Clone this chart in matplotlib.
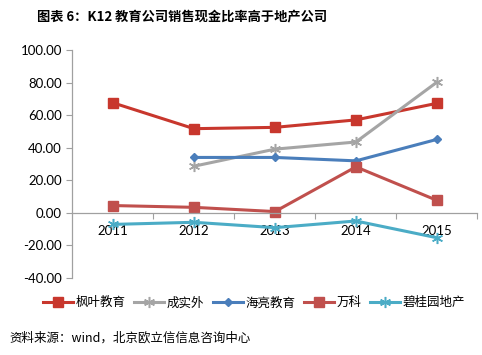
import matplotlib.pyplot as plt
from matplotlib.ticker import FormatStrFormatter

plt.rcParams['font.family'] = ['Noto Sans CJK SC', 'DejaVu Sans']

years = ['2011', '2012', '2013', '2014', '2015']
fengye = [67.6, 51.7, 52.5, 57.1, 67.3]
chengshiwai = [None, 28.6, 39.1, 43.5, 80.3]
hailiang = [None, 34.0, 34.0, 31.9, 45.1]
wanke = [4.4, 3.3, 0.7, 28.2, 7.6]
biguiyuan = [-7.2, -5.9, -9.2, -5.1, -15.4]

fig = plt.figure(figsize=(4.82, 3.55), dpi=100)
ax = fig.add_axes([0.1504, 0.2177, 0.840, 0.641])

x = list(range(len(years)))

def pts(vals):
    xs = [i for i, v in zip(x, vals) if v is not None]
    ys = [v for v in vals if v is not None]
    return xs, ys

star = (6, 2, 0)  # excel-like asterisk
ax.plot(*pts(fengye), color='#c8372d', lw=2.2, marker='s', ms=6.5, label='枫叶教育')
ax.plot(*pts(chengshiwai), color='#a5a5a5', lw=2.2, marker=star, ms=8, mew=1.1, label='成实外')
ax.plot(*pts(hailiang), color='#4a7ebb', lw=2.2, marker='D', ms=4.5, label='海亮教育')
ax.plot(*pts(wanke), color='#c0504d', lw=2.2, marker='s', ms=6.5, label='万科')
ax.plot(*pts(biguiyuan), color='#4bacc6', lw=2.2, marker=star, ms=8, mew=1.1, label='碧桂园地产')

ax.set_xlim(-0.5, 4.5)
ax.set_ylim(-40, 100)
ax.set_yticks(range(-40, 101, 20))
ax.yaxis.set_major_formatter(FormatStrFormatter('%.2f'))

ax.spines['bottom'].set_position(('data', 0))
ax.spines['top'].set_visible(False)
ax.spines['right'].set_visible(False)
for s in ['left', 'bottom']:
    ax.spines[s].set_color('#a0a0a0')
    ax.spines[s].set_linewidth(0.9)

ax.set_xticks([0.5, 1.5, 2.5, 3.5, 4.5])
ax.set_xticklabels([])
ax.set_xticks(x, minor=True)
ax.set_xticklabels(years, minor=True)
ax.tick_params(axis='x', which='major', direction='out', length=4, color='#a0a0a0')
ax.tick_params(axis='x', which='minor', length=0, pad=9, labelsize=9.5)
ax.tick_params(axis='y', direction='out', length=4, color='#a0a0a0', labelsize=9.5)
for lab in ax.get_xticklabels(minor=True) + ax.get_yticklabels():
    lab.set_family(['Lato', 'DejaVu Sans'])

fig.legend(loc='center', bbox_to_anchor=(0.527, 0.147), ncol=5, frameon=False,
           fontsize=9, handlelength=2.4, handletextpad=0.2, columnspacing=0.7)

fig.text(0.077, 0.955, '图表 6：K12 教育公司销售现金比率高于地产公司', fontsize=9.5,
         fontweight='bold', va='center', ha='left')
fig.text(0.02, 0.048, '资料来源：wind，北京欧立信信息咨询中心', fontsize=9,
         va='center', ha='left')

fig.savefig('out.png', dpi=100)
